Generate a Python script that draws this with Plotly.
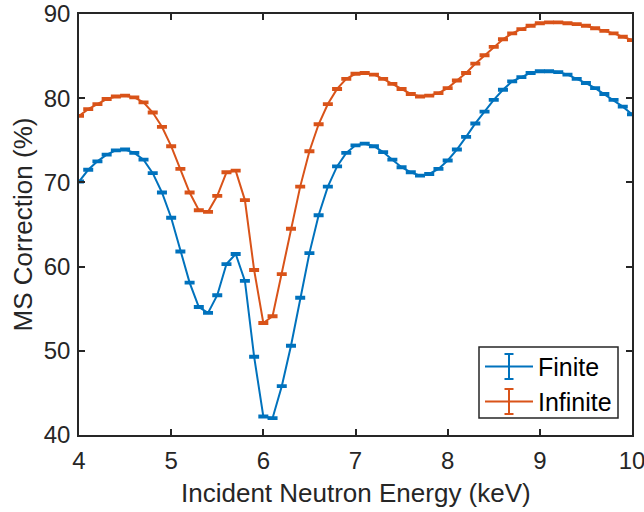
import plotly.graph_objects as go

# Incident neutron energy grid (keV)
energy = [round(4.0 + 0.1 * i, 1) for i in range(61)]

# Multiple-scattering correction (%) for the finite sample
finite = [
    70.1, 71.5, 72.5, 73.3, 73.8, 73.9, 73.5, 72.7, 71.1, 68.8,
    65.8, 61.8, 58.1, 55.2, 54.5, 56.6, 60.3, 61.5, 58.3, 49.3,
    42.2, 42.0, 45.8, 50.6, 56.3, 61.6, 66.1, 69.5, 71.9, 73.5,
    74.4, 74.6, 74.3, 73.6, 72.7, 71.8, 71.2, 70.8, 71.0, 71.6,
    72.6, 73.9, 75.4, 77.0, 78.4, 79.8, 81.0, 82.0, 82.5, 83.0,
    83.2, 83.2, 83.1, 82.8, 82.3, 81.8, 81.2, 80.5, 79.8, 79.0,
    78.1,
]

# Multiple-scattering correction (%) for the infinite sample
infinite = [
    77.9, 78.7, 79.3, 79.9, 80.2, 80.3, 80.1, 79.5, 78.3, 76.6,
    74.3, 71.6, 68.8, 66.7, 66.5, 68.4, 71.2, 71.4, 67.9, 59.6,
    53.3, 54.1, 59.1, 64.5, 69.5, 73.7, 76.9, 79.3, 81.1, 82.3,
    82.9, 83.0, 82.8, 82.3, 81.7, 81.1, 80.5, 80.2, 80.3, 80.6,
    81.2, 82.1, 83.0, 84.1, 85.1, 86.1, 87.0, 87.7, 88.2, 88.6,
    88.9, 89.0, 89.0, 88.9, 88.8, 88.6, 88.3, 88.0, 87.7, 87.3,
    86.9,
]

# Statistical uncertainty on each point (%)
uncertainty = 0.1

x_ticks = [4, 5, 6, 7, 8, 9, 10]
y_ticks = [40, 50, 60, 70, 80, 90]

series = [
    ("Finite", finite, "#0072BD"),
    ("Infinite", infinite, "#D95319"),
]

FONT = "Liberation Sans, Arial, sans-serif"
AXIS_COLOR = "#262626"

# Figure / plot-area geometry in pixels
W, H = 644, 512
M_L, M_R, M_T, M_B = 79, 12, 14, 77
PW, PH = W - M_L - M_R, H - M_T - M_B


def px_x(p):
    """Horizontal pixel -> paper fraction."""
    return (p - M_L) / PW


def px_y(p):
    """Vertical pixel (from top) -> paper fraction."""
    return (H - M_B - p) / PH


fig = go.Figure()
for name, values, color in series:
    fig.add_trace(go.Scatter(
        x=energy, y=values, name=name, mode="lines",
        line=dict(color=color, width=2),
        error_y=dict(type="constant", value=uncertainty, color=color,
                     thickness=2.2, width=5),
        showlegend=False,
    ))

axis_common = dict(
    showline=True, linecolor=AXIS_COLOR, linewidth=1.5, mirror="ticks",
    ticks="inside", ticklen=6, tickwidth=1.5, tickcolor=AXIS_COLOR,
    showgrid=False, zeroline=False, automargin=False,
    ticklabeloverflow="allow",
    tickfont=dict(family=FONT, size=24, color=AXIS_COLOR),
)

fig.update_xaxes(
    range=[4, 10], tickvals=x_ticks, ticktext=[str(v) for v in x_ticks],
    ticklabelstandoff=3,
    **axis_common,
)
fig.update_yaxes(
    range=[40, 90], tickvals=y_ticks, ticktext=[str(v) for v in y_ticks],
    ticklabelstandoff=2,
    title=dict(text="MS Correction (%)", standoff=4,
               font=dict(family=FONT, size=26, color=AXIS_COLOR)),
    **axis_common,
)

shapes = []
annotations = [
    dict(text="Incident Neutron Energy (keV)", xref="paper", yref="paper",
         x=0.5, y=px_y(476), xanchor="center", yanchor="top",
         showarrow=False,
         font=dict(family=FONT, size=26, color=AXIS_COLOR)),
]

# Legend box with a line + error-bar glyph per series
box_l, box_r, box_t, box_b = 479, 618, 347, 418
shapes.append(dict(
    type="rect", xref="paper", yref="paper", layer="above",
    x0=px_x(box_l), x1=px_x(box_r), y0=px_y(box_b), y1=px_y(box_t),
    line=dict(color=AXIS_COLOR, width=1.5), fillcolor="white",
))
for i, (name, _, color) in enumerate(series):
    yc = 366.5 + 35 * i
    shapes.append(dict(
        type="line", xref="paper", yref="paper", layer="above",
        x0=px_x(485), x1=px_x(533), y0=px_y(yc), y1=px_y(yc),
        line=dict(color=color, width=2),
    ))
    shapes.append(dict(
        type="line", xref="paper", yref="paper", layer="above",
        x0=px_x(509), x1=px_x(509), y0=px_y(yc - 12.5), y1=px_y(yc + 12.5),
        line=dict(color=color, width=2),
    ))
    for cap in (yc - 12.5, yc + 12.5):
        shapes.append(dict(
            type="line", xref="paper", yref="paper", layer="above",
            x0=px_x(504.5), x1=px_x(513.5), y0=px_y(cap), y1=px_y(cap),
            line=dict(color=color, width=2),
        ))
    annotations.append(dict(
        text=name, xref="paper", yref="paper",
        x=px_x(536), y=px_y(yc), xanchor="left", yanchor="middle",
        showarrow=False,
        font=dict(family=FONT, size=25, color="#000000"),
    ))

fig.update_layout(
    width=W, height=H,
    margin=dict(l=M_L, r=M_R, t=M_T, b=M_B),
    paper_bgcolor="white", plot_bgcolor="white",
    font=dict(family=FONT, color=AXIS_COLOR),
    shapes=shapes, annotations=annotations,
    showlegend=False,
)

fig.write_html("out.html")
